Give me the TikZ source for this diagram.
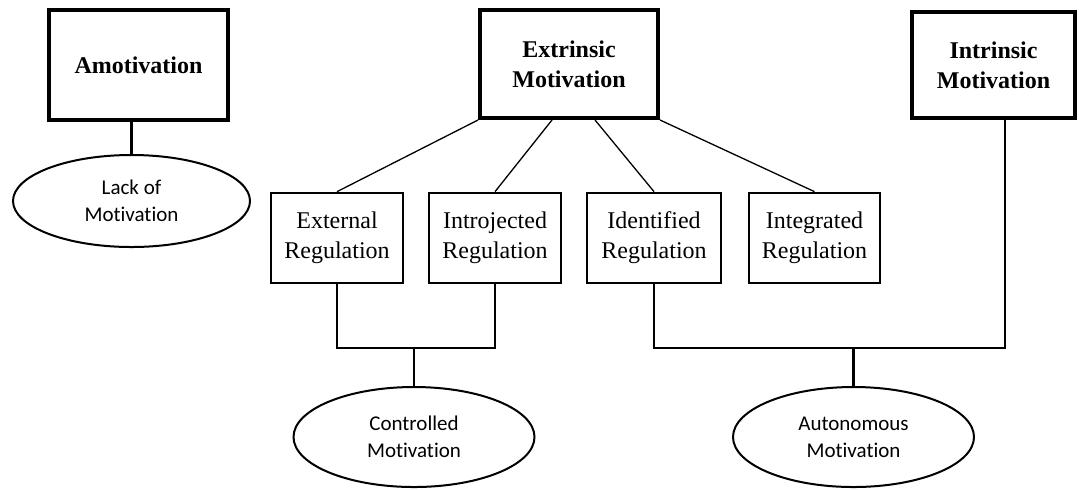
\documentclass[tikz,border=0pt]{standalone}
\usepackage{fontspec}
\setmainfont{Liberation Serif}
\newfontfamily\calibri[Ligatures=NoCommon]{Carlito}
\usetikzlibrary{shapes.geometric}
\begin{document}
\begin{tikzpicture}[x=0.5pt, y=-0.5pt, % 1単位 = 元画像の1px
  bigbox/.style={draw, line width=2pt, inner sep=0pt, align=center, font=\bfseries\fontsize{12}{15}\selectfont},
  regbox/.style={draw, line width=1.35pt, minimum width=66pt, minimum height=45pt, inner sep=0pt, align=center, font=\fontsize{12}{15}\selectfont},
  oval/.style={draw, ellipse, line width=1pt, minimum width=120.5pt, minimum height=50pt, inner sep=0pt, align=center, font=\calibri\fontsize{10.5}{13.5}\selectfont},
  link/.style={line width=1.15pt}, % 括弧状の線
  spoke/.style={line width=0.65pt}] % 斜めの線
  \useasboundingbox (0,0) rectangle (1079,489); % 余白込みの枠
  % 上段の太枠
  \node[bigbox, minimum width=89.5pt, minimum height=55pt] (amo) at (138.5,65) {Amotivation};
  \node[bigbox, minimum width=89pt, minimum height=54pt] (ext) at (569,64) {Extrinsic\\Motivation};
  \node[bigbox, minimum width=81.5pt, minimum height=53pt] (intr) at (993.5,65) {Intrinsic\\Motivation};
  % 調整の四つの箱
  \node[regbox] (extreg) at (337,238) {External\\Regulation};
  \node[regbox] (introreg) at (495,238) {Introjected\\Regulation};
  \node[regbox, minimum width=67pt] (identreg) at (654,238) {Identified\\Regulation};
  \node[regbox, minimum width=65.5pt] (integreg) at (814.5,238) {Integrated\\Regulation};
  % 楕円
  \node[oval, minimum width=118.5pt, minimum height=46pt] (lack) at (131.5,201) {Lack of\\Motivation};
  \node[oval] (ctrl) at (414,437) {Controlled\\Motivation};
  \node[oval] (auto) at (853.5,437) {Autonomous\\Motivation};
  \coordinate (cjoin) at (414,348); % 合流点
  \coordinate (ajoin) at (853.5,348);
  \coordinate (aright) at (1005,348);
  \draw[link] (amo.south -| lack.north) -- (lack.north);
  \draw[spoke] (ext.south west) -- (extreg.north);
  \draw[spoke] ([xshift=-8.5pt]ext.south) -- (introreg.north);
  \draw[spoke] ([xshift=13pt]ext.south) -- (identreg.north);
  \draw[spoke] (ext.south east) -- (integreg.north);
  \draw[link] (extreg.south) |- (cjoin) -| (introreg.south);
  \draw[link] (cjoin) -- (ctrl.north);
  \draw[link] (identreg.south) |- (aright) -- (aright |- intr.south);
  \draw[link] (ajoin) -- (auto.north);
\end{tikzpicture}
\end{document}
